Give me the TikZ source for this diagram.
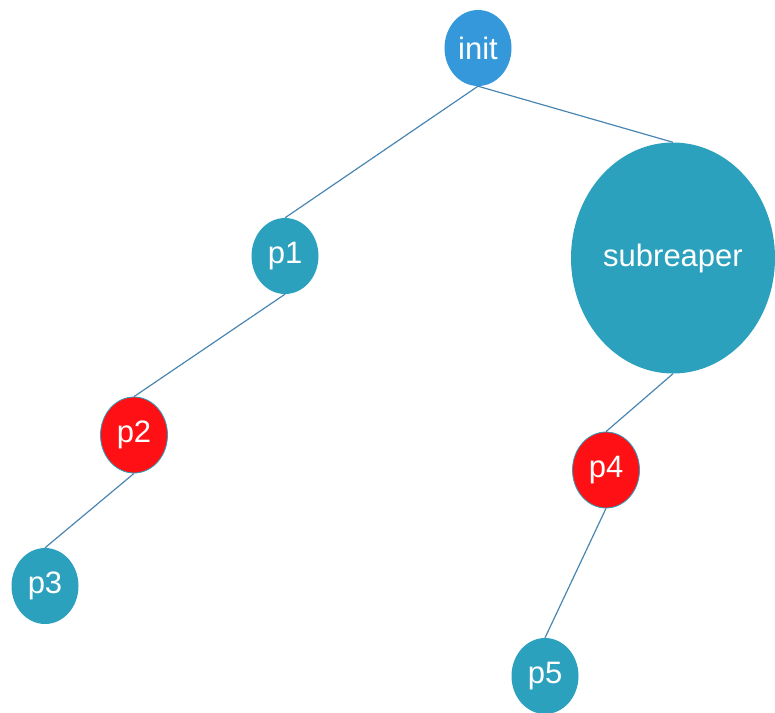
\documentclass[tikz,border=0pt]{standalone}
\usepackage{fontspec}
\setmainfont{Liberation Sans}
\usetikzlibrary{shapes.geometric}

\definecolor{initblue}{HTML}{3498DB}
\definecolor{proc}{HTML}{2CA1BE}
\definecolor{killed}{HTML}{FF1014}
\definecolor{link}{HTML}{4A86B2}

\tikzset{
  task/.style={ellipse, fill=proc, text=white, inner sep=0pt,
    minimum width=67pt, minimum height=76pt, font=\fontsize{31}{34}\selectfont},
  dead/.style={task, fill=killed, draw=proc, line width=0.8pt},
  edge/.style={draw=link, line width=1.2pt},
}

\begin{document}
\begin{tikzpicture}[x=1pt, y=-1pt]
\useasboundingbox (0,0) rectangle (775,712);
\node[task, fill=initblue] (init) at (478,48) {init};
\node[task] (p1) at (285,256) {p1};
\node[task, minimum width=204pt, minimum height=231pt] (sub) at (673,258) {subreaper};
\node[dead] (p2) at (134,435) {p2};
\node[dead] (p4) at (606,470) {p4};
\node[task] (p3) at (45,586) {p3};
\node[task] (p5) at (545,676) {p5};
\draw[edge] (init.south) -- (p1.north);
\draw[edge] (init.south) -- (sub.north);
\draw[edge] (p1.south) -- (p2.north);
\draw[edge] (p2.south) -- (p3.north);
\draw[edge] (sub.south) -- (p4.north);
\draw[edge] (p4.south) -- (p5.north);
\end{tikzpicture}
\end{document}
